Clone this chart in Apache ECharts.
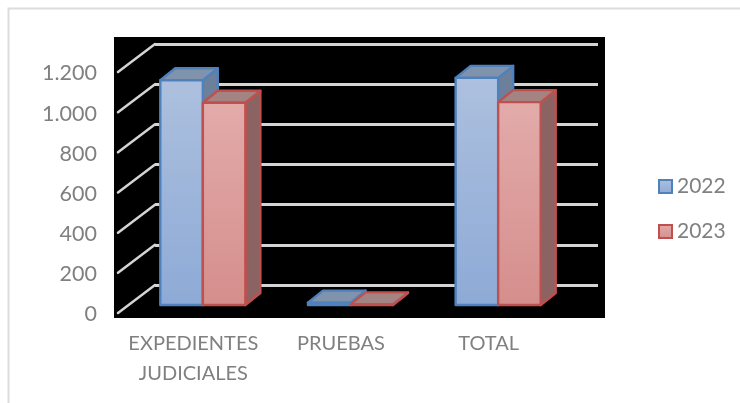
<!DOCTYPE html>
<html><head><meta charset="utf-8">
<style>html,body{margin:0;padding:0;background:#fff}#c{width:740px;height:403px}</style>
<script src="https://cdn.jsdelivr.net/npm/echarts@6/dist/echarts.min.js"></script>
</head><body><div id="c"></div>
<script>
const categories = ['EXPEDIENTES\nJUDICIALES', 'PRUEBAS', 'TOTAL'];
const values2022 = [1119, 12, 1131];
const values2023 = [1007, 3, 1010];
const yTicks = [0, 200, 400, 600, 800, 1000, 1200];
const yTickLabels = ['0', '200', '400', '600', '800', '1.000', '1.200'];

const FONT = 'Lato, Carlito, sans-serif';
const GREY = '#808080';
const DEPTH_X = 15, DEPTH_Y = 12;
const WALL_X = 37, WALL_Y = 28;
const vGrad = (a, b) => new echarts.graphic.LinearGradient(0, 0, 0, 1, [{offset: 0, color: a}, {offset: 1, color: b}]);

const styles = {
  blue: {front: vGrad('#adc0de', '#8daad6'), top: '#8093ad', side: '#6c7f9b', line: '#4f81bd', pos: -1},
  red:  {front: vGrad('#e2abaa', '#d58e8c'), top: '#a38483', side: '#8a6362', line: '#c0504d', pos: 0}
};

function bar3d(st) {
  return function (params, api) {
    const idx = api.value(0), val = api.value(1);
    const top = api.coord([idx, val]);
    const base = api.coord([idx, 0]);
    const w = api.size([1, 0])[0] * 0.288;
    const x0 = top[0] + st.pos * w, x1 = x0 + w, yT = top[1], yB = base[1];
    const lw = {stroke: st.line, lineWidth: 2.4, lineJoin: 'round'};
    const poly = (pts, fill) => ({type: 'polygon', shape: {points: pts}, style: Object.assign({fill}, lw)});
    return {type: 'group', children: [
      poly([[x1, yT], [x1 + DEPTH_X, yT - DEPTH_Y], [x1 + DEPTH_X, yB - DEPTH_Y], [x1, yB]], st.side),
      poly([[x0, yT], [x0 + DEPTH_X, yT - DEPTH_Y], [x1 + DEPTH_X, yT - DEPTH_Y], [x1, yT]], st.top),
      poly([[x0, yT], [x1, yT], [x1, yB], [x0, yB]], st.front)
    ]};
  };
}

const chart = echarts.init(document.getElementById('c'), null, {renderer: 'canvas'});
const hiddenY = {type: 'value', min: 0, max: 1200, interval: 200, axisLine: {show: false}, axisTick: {show: false}, axisLabel: {show: false}, splitLine: {show: false}};
const hiddenX = {type: 'category', data: categories, axisLine: {show: false}, axisTick: {show: false}, axisLabel: {show: false}, splitLine: {show: false}};

chart.setOption({
  animation: false,
  backgroundColor: '#fff',
  graphic: [{type: 'polyline', shape: {points: [[8.5, 420], [8.5, 8.5], [745, 8.5]]}, style: {fill: 'none', stroke: '#dcdcdc', lineWidth: 2}, z: -1, silent: true}],
  grid: [
    {left: 114, top: 37, width: 491, height: 281, show: true, backgroundColor: '#000', borderWidth: 0},
    {left: 119.5, top: 73.5, width: 443, height: 241},
    {left: 155, top: 44, width: 443, height: 241},
    {left: 129, top: 64, width: 443, height: 241}
  ],
  xAxis: [
    Object.assign({}, hiddenX, {gridIndex: 0}),
    {type: 'category', gridIndex: 1, data: categories, axisLine: {show: false}, axisTick: {show: false},
     axisLabel: {color: GREY, fontFamily: FONT, fontSize: 20, lineHeight: 30, margin: 14.5, interval: 0}},
    Object.assign({}, hiddenX, {gridIndex: 2}),
    Object.assign({}, hiddenX, {gridIndex: 3})
  ],
  yAxis: [
    Object.assign({}, hiddenY, {gridIndex: 0}),
    {type: 'value', gridIndex: 1, min: 0, max: 1200, interval: 200, axisLine: {show: false}, axisTick: {show: false}, splitLine: {show: false},
     axisLabel: {color: GREY, fontFamily: FONT, fontSize: 21.5, margin: 22.5, padding: [2, 0, 0, 0], formatter: v => yTickLabels[yTicks.indexOf(v)]}},
    {type: 'value', gridIndex: 2, min: 0, max: 1200, interval: 200, axisLine: {show: false}, axisTick: {show: false}, axisLabel: {show: false},
     splitLine: {show: true, lineStyle: {color: '#d4d4d4', width: 3}}},
    Object.assign({}, hiddenY, {gridIndex: 3})
  ],
  legend: {
    left: 658, top: 176, padding: 0, orient: 'vertical', itemWidth: 13, itemHeight: 13, itemGap: 24, selectedMode: false,
    textStyle: {color: GREY, fontFamily: FONT, fontSize: 21},
    data: [
      {name: '2022', icon: 'rect', itemStyle: {color: styles.blue.front, borderColor: styles.blue.line, borderWidth: 2}},
      {name: '2023', icon: 'rect', itemStyle: {color: styles.red.front, borderColor: styles.red.line, borderWidth: 2}}
    ]
  },
  series: [
    {type: 'custom', name: 'wall', xAxisIndex: 2, yAxisIndex: 2, z: 1, silent: true,
     data: yTicks.map(v => [0, v]),
     renderItem: (params, api) => {
       const y = api.coord([0, api.value(1)])[1], x = params.coordSys.x;
       return {type: 'line', shape: {x1: x, y1: y, x2: x - WALL_X, y2: y + WALL_Y},
               style: {stroke: '#d4d4d4', lineWidth: 2.5, lineCap: 'round'}};
     }},
    {type: 'custom', name: '2022', xAxisIndex: 3, yAxisIndex: 3, z: 3, silent: true,
     data: values2022.map((v, i) => [i, v]), renderItem: bar3d(styles.blue), encode: {x: 0, y: 1}},
    {type: 'custom', name: '2023', xAxisIndex: 3, yAxisIndex: 3, z: 4, silent: true,
     data: values2023.map((v, i) => [i, v]), renderItem: bar3d(styles.red), encode: {x: 0, y: 1}}
  ]
});
</script></body></html>
